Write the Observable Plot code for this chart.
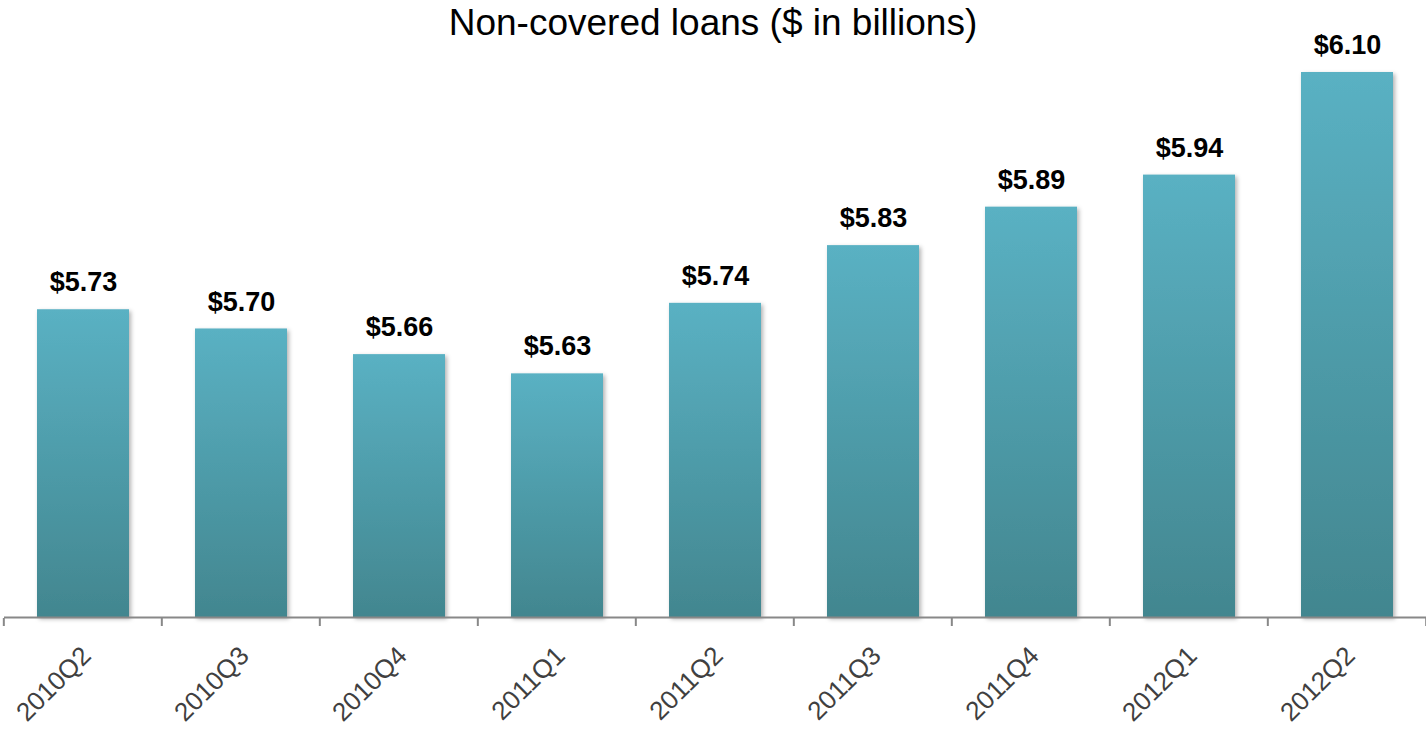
<!DOCTYPE html>
<html>
<head>
<meta charset="utf-8">
<script src="https://cdn.jsdelivr.net/npm/d3@7"></script>
<script src="https://cdn.jsdelivr.net/npm/@observablehq/plot@0.6"></script>
<style>
  html, body { margin: 0; padding: 0; background: #fff; }
  #title { height: 30px; width: 1426px; text-align: center; font-family: "Liberation Sans", Arial, sans-serif; font-size: 37px; line-height: 46px; color: #000; overflow: visible; white-space: nowrap; position: relative; z-index: 1; }
  #chart svg { display: block; }
</style>
</head>
<body>
<div id="title">Non-covered loans ($ in billions)</div>
<div id="chart"></div>
<script>
const quarters = ["2010Q2", "2010Q3", "2010Q4", "2011Q1", "2011Q2", "2011Q3", "2011Q4", "2012Q1", "2012Q2"];
const loans = [5.73, 5.70, 5.66, 5.63, 5.74, 5.83, 5.89, 5.94, 6.10];
const yMin = 5.25;

const data = quarters.map((q, i) => ({quarter: q, value: loans[i]}));

function boundaryTicks(index, scales, values, dims) {
  const x = scales.x, y = scales.y;
  const step = x.step();
  const half = x.paddingInner() * step / 2;
  const xs = quarters.map(q => x(q) - half);
  xs.push(x(quarters[quarters.length - 1]) + x.bandwidth() + half);
  const y0 = y(yMin) + 1;
  const g = d3.create("svg:g");
  g.selectAll("line").data(xs).join("line")
    .attr("x1", d => d).attr("x2", d => d)
    .attr("y1", y0).attr("y2", y0 + 8)
    .attr("stroke", "#888").attr("stroke-width", 2);
  return g.node();
}

const chart = Plot.plot({
  width: 1426,
  height: 702,
  marginLeft: 4,
  marginRight: 0,
  marginTop: 42,
  marginBottom: 115,
  style: {fontFamily: "'Liberation Sans', Arial, sans-serif", background: "transparent", overflow: "visible"},
  x: {domain: quarters, paddingInner: 0.42, paddingOuter: 0.21, label: null},
  y: {domain: [yMin, 6.10], axis: null},
  marks: [
    Plot.barY(data, {x: "quarter", y1: yMin, y2: "value", fill: "url(#barGrad)"}),
    Plot.ruleY([yMin], {stroke: "#888", strokeWidth: 2}),
    boundaryTicks,
    Plot.text(data, {x: "quarter", y: "value", text: d => "$" + d.value.toFixed(2), dy: -27, fontSize: 27, fontWeight: "bold", fill: "#000"}),
    Plot.axisX({tickSize: 0, tickRotate: -45, tickPadding: 34, dx: 3, fontSize: 26, fill: "#404040", label: null})
  ]
});

const svg = d3.select(chart);
const defs = svg.insert("defs", ":first-child");
const grad = defs.append("linearGradient").attr("id", "barGrad")
  .attr("x1", 0).attr("y1", 0).attr("x2", 0).attr("y2", 1);
grad.append("stop").attr("offset", "0%").attr("stop-color", "#5ab1c3");
grad.append("stop").attr("offset", "100%").attr("stop-color", "#42868f");
const f = defs.append("filter").attr("id", "barShadow").attr("x", "-10%").attr("y", "-10%").attr("width", "130%").attr("height", "130%");
f.append("feDropShadow").attr("dx", 2).attr("dy", 2).attr("stdDeviation", 2).attr("flood-color", "#000").attr("flood-opacity", 0.3);
svg.selectAll("rect").filter(function() { return this.getAttribute("fill") === "url(#barGrad)" || (this.parentNode && this.parentNode.getAttribute("fill") === "url(#barGrad)"); })
  .attr("filter", "url(#barShadow)");

document.getElementById("chart").appendChild(chart);
</script>
</body>
</html>
